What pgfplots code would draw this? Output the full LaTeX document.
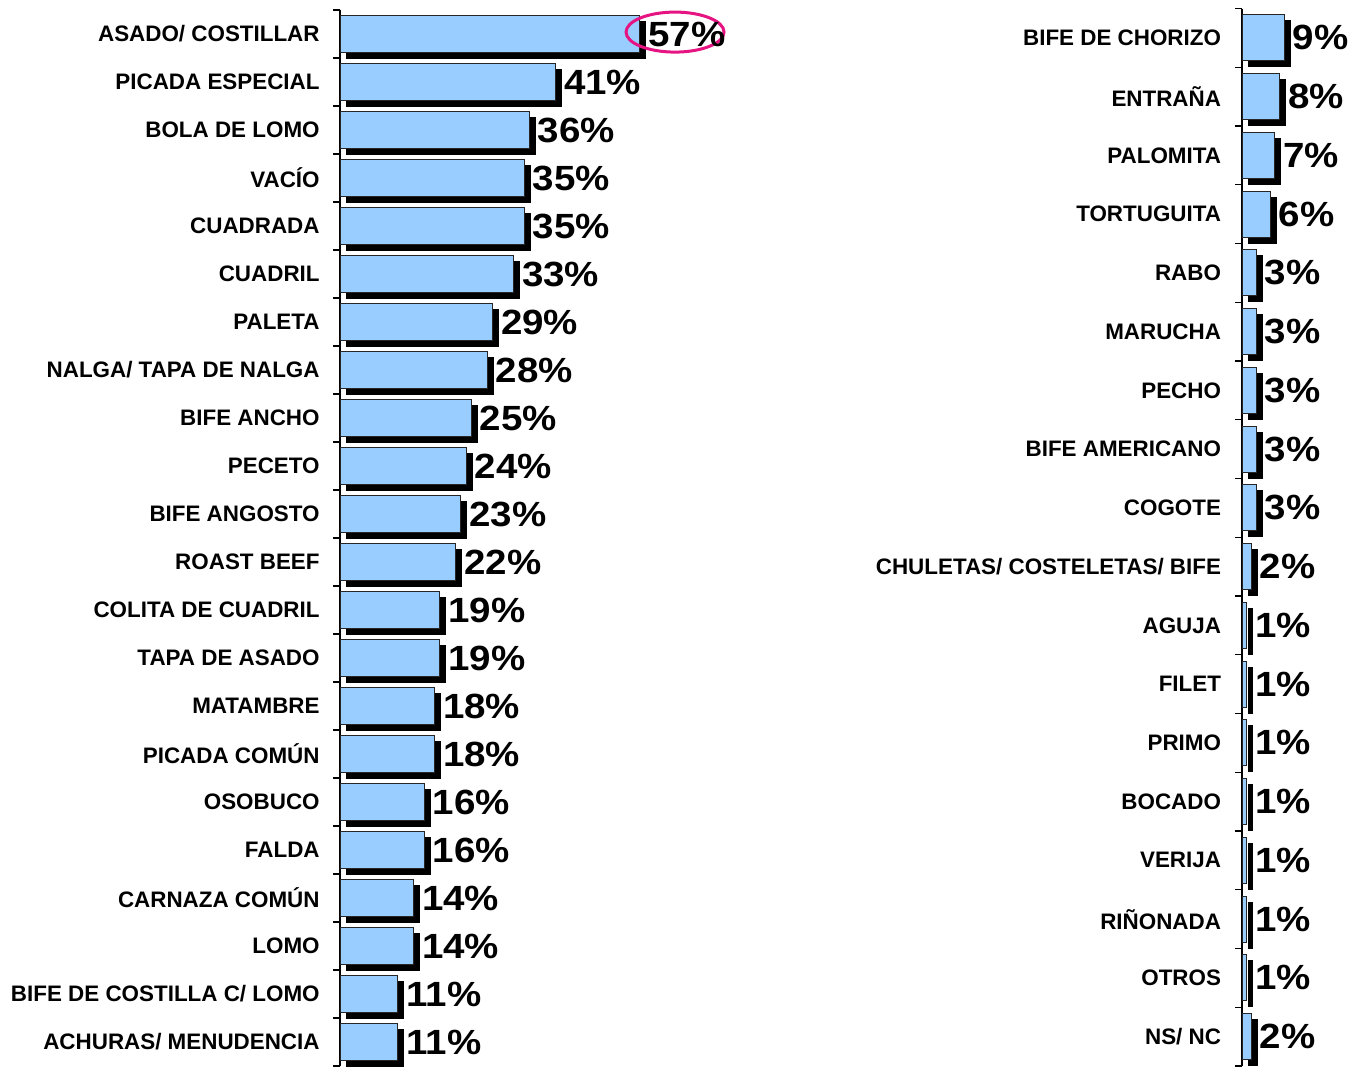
\documentclass[border=0pt]{standalone}
\usepackage{fontspec}
\setmainfont{Liberation Sans}
\newfontfamily\valfont[FakeStretch=1.1]{Liberation Sans}
\usepackage{pgfplots}
\usepackage{pgfplotstable}
\pgfplotsset{compat=1.18}
\definecolor{barblue}{RGB}{153,204,255}
\definecolor{ringpink}{RGB}{230,20,130}

\pgfplotstableread{
idx val
0 57
1 41
2 36
3 35
4 35
5 33
6 29
7 28
8 25
9 24
10 23
11 22
12 19
13 19
14 18
15 18
16 16
17 16
18 14
19 14
20 11
21 11
}\lefttable

\pgfplotstableread{
idx val
0 9
1 8
2 7
3 6
4 3
5 3
6 3
7 3
8 3
9 2
10 1
11 1
12 1
13 1
14 1
15 1
16 1
17 2
}\righttable

\pgfplotsset{
  cutstyle/.style={
    scale only axis,
    anchor=south west,
    axis x line=none,
    axis y line=left,
    axis line style={-, black, line width=0.6pt},
    y dir=reverse,
    xmin=0,
    clip=false,
    /pgf/number format/assume math mode=true,
    major tick length=0pt,
    minor tick length=3.5pt,
    tick align=outside,
    tick style={black, line width=0.6pt},
    yticklabel style={font=\bfseries\fontsize{11.2}{13}\selectfont, anchor=east, inner sep=0pt, xshift=-10pt},
  },
  shadowbar/.style={xbar, bar width=0.78, bar shift=0pt, fill=black, draw=black, line width=0.5pt, xshift=3pt, yshift=-3pt},
  mainbar/.style={xbar, bar width=0.78, bar shift=0pt, fill=barblue, draw=black!85, line width=0.5pt,
    point meta=x,
    nodes near coords={\pgfmathprintnumber[fixed,precision=0,assume math mode=true]{\pgfplotspointmeta}\%},
    every node near coord/.append style={font=\valfont\bfseries\fontsize{17.5}{20}\selectfont, text=black, anchor=west, inner sep=0pt, xshift=4pt}},
}

\begin{document}
\begin{tikzpicture}
\useasboundingbox (0,0) rectangle (676pt,533.5pt);

\begin{axis}[cutstyle,
  at={(170pt,0.5pt)},
  width=157.8pt, height=528pt,
  xmax=60,
  ymin=-0.5, ymax=21.5,
  ytick={0,...,21},
  minor ytick={-0.5,0.5,...,21.5},
  yticklabels={ASADO/ COSTILLAR, PICADA ESPECIAL, BOLA DE LOMO, VACÍO, CUADRADA, CUADRIL, PALETA, NALGA/ TAPA DE NALGA, BIFE ANCHO, PECETO, BIFE ANGOSTO, ROAST BEEF, COLITA DE CUADRIL, TAPA DE ASADO, MATAMBRE, PICADA COMÚN, OSOBUCO, FALDA, CARNAZA COMÚN, LOMO, BIFE DE COSTILLA C/ LOMO, ACHURAS/ MENUDENCIA},
]
\addplot[shadowbar] table[x=val, y=idx] {\lefttable};
\addplot[mainbar] table[x=val, y=idx] {\lefttable};
\draw[ringpink, line width=1.5pt] (axis cs:63.7,-0.04) ellipse [x radius=24.5pt, y radius=10pt];
\end{axis}

\begin{axis}[cutstyle,
  at={(621pt,0.5pt)},
  width=23.5pt, height=528.75pt,
  xmax=10,
  ymin=-0.5, ymax=17.5,
  ytick={0,...,17},
  minor ytick={-0.5,0.5,...,17.5},
  yticklabel style={xshift=-0.3pt},
  yticklabels={BIFE DE CHORIZO, ENTRAÑA, PALOMITA, TORTUGUITA, RABO, MARUCHA, PECHO, BIFE AMERICANO, COGOTE, CHULETAS/ COSTELETAS/ BIFE, AGUJA, FILET, PRIMO, BOCADO, VERIJA, RIÑONADA, OTROS\hspace{3.5pt}, NS/ NC},
]
\addplot[shadowbar] table[x=val, y=idx] {\righttable};
\addplot[mainbar] table[x=val, y=idx] {\righttable};
\end{axis}
\end{tikzpicture}
\end{document}
